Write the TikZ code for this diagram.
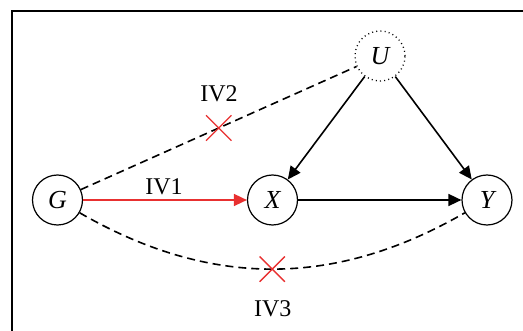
\documentclass[tikz,border=0pt]{standalone}
\usepackage{fontspec}
\setmainfont{Liberation Serif}
\usetikzlibrary{arrows.meta,shapes.misc}
\definecolor{ivred}{RGB}{232,48,48}
\begin{document}
\begin{tikzpicture}[x=1pt,y=-1pt,
  var/.style={circle,draw,line width=1.2pt,minimum size=50pt,inner sep=0pt,font=\fontsize{26}{30}\selectfont\itshape},
  hidden/.style={line width=1.3pt,dash pattern=on 1pt off 3.2pt},
  arr/.style={line width=1.6pt,-{Triangle[length=13pt,width=12pt]}},
  dashedge/.style={line width=1.6pt,dash pattern=on 8pt off 5pt},
  crossmark/.style={cross out,draw=ivred,line width=1.3pt,minimum size=24pt,inner sep=0pt,solid},
  lab/.style={anchor=base,font=\fontsize{24}{28}\selectfont}]
\useasboundingbox (0,0) rectangle (523,331);
\draw[line width=2.4pt] (12,331) -- (12,11) -- (523,11);
\node[var] (G) at (57.5,200) {G};
\node[var] (X) at (272.5,200) {X};
\node[var] (Y) at (487,200) {Y};
\node[var,hidden] (U) at (380,56) {U};
\draw[arr,draw=ivred,fill=ivred] (G) -- (X);
\draw[arr] (X) -- (Y);
\draw[arr] (U) -- (X);
\draw[arr] (U) -- (Y);
\draw[dashedge] (G) -- node[crossmark]{} (U);
\draw[dashedge] (G) to[bend right=30] node[crossmark]{} (Y);
\node[lab] (iv1) at (164,195) {IV1};
\node[lab] (iv2) at (219,102) {IV2};
\node[lab] (iv3) at (272.7,317) {IV3};
\end{tikzpicture}
\end{document}
